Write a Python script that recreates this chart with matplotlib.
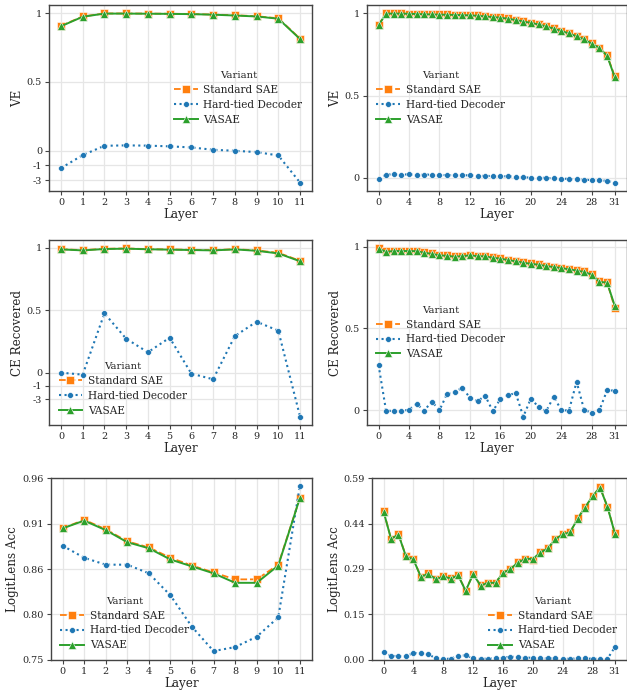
import matplotlib
matplotlib.use("Agg")
import matplotlib.pyplot as plt
import numpy as np

layers_small = list(range(12))
layers_large = list(range(32))

# VE
ve_small_sae = [0.908, 0.976, 0.998, 0.998, 0.997, 0.996, 0.994, 0.990, 0.985, 0.978, 0.963, 0.815]
ve_small_tied = [-1.27, -0.23, 0.036, 0.039, 0.037, 0.032, 0.024, 0.007, -0.002, -0.065, -0.25, -3.48]
ve_small_vasae = [0.905, 0.974, 0.997, 0.997, 0.996, 0.995, 0.993, 0.989, 0.983, 0.976, 0.960, 0.812]

ve_large_sae = [0.929, 0.998, 0.998, 0.998, 0.997, 0.996, 0.994, 0.993, 0.993, 0.992, 0.991, 0.990,
                0.988, 0.986, 0.982, 0.978, 0.974, 0.968, 0.960, 0.951, 0.943, 0.933, 0.921, 0.909,
                0.894, 0.880, 0.862, 0.843, 0.817, 0.790, 0.745, 0.618]
ve_large_tied = [-0.006, 0.020, 0.022, 0.020, 0.022, 0.018, 0.020, 0.020, 0.020, 0.016, 0.018, 0.016,
                 0.016, 0.014, 0.012, 0.012, 0.010, 0.010, 0.008, 0.004, 0.002, 0.002, 0.000, -0.002,
                 -0.004, -0.006, -0.008, -0.010, -0.014, -0.014, -0.018, -0.028]
ve_large_vasae = [0.927, 0.997, 0.997, 0.997, 0.996, 0.995, 0.993, 0.992, 0.991, 0.990, 0.989, 0.988,
                  0.986, 0.984, 0.980, 0.976, 0.972, 0.966, 0.958, 0.949, 0.941, 0.931, 0.919, 0.906,
                  0.891, 0.877, 0.859, 0.840, 0.814, 0.787, 0.742, 0.612]

# CE Recovered
ce_small_sae = [0.989, 0.981, 0.992, 0.995, 0.989, 0.987, 0.984, 0.981, 0.989, 0.979, 0.960, 0.896]
ce_small_tied = [0.0, -0.11, 0.475, 0.272, 0.163, 0.28, -0.053, -0.41, 0.293, 0.408, 0.336, -8.8]
ce_small_vasae = [0.987, 0.979, 0.990, 0.993, 0.988, 0.985, 0.982, 0.979, 0.987, 0.976, 0.955, 0.892]

ce_large_sae = [0.990, 0.972, 0.977, 0.977, 0.977, 0.976, 0.966, 0.960, 0.950, 0.948, 0.942, 0.946,
                0.950, 0.946, 0.944, 0.936, 0.930, 0.922, 0.914, 0.905, 0.899, 0.893, 0.885, 0.879,
                0.873, 0.865, 0.857, 0.849, 0.832, 0.788, 0.784, 0.628]
ce_large_tied = [0.278, -0.006, -0.002, -0.006, 0.004, 0.039, -0.002, 0.053, 0.0, 0.100, 0.114, 0.136,
                 0.077, 0.055, 0.089, -0.006, 0.069, 0.091, 0.106, -0.039, 0.071, 0.020, -0.006, 0.083,
                 0.0, -0.002, 0.175, 0.0, -0.014, 0.0, 0.122, 0.120]
ce_large_vasae = [0.988, 0.969, 0.974, 0.974, 0.974, 0.973, 0.963, 0.957, 0.947, 0.945, 0.939, 0.943,
                  0.947, 0.943, 0.941, 0.933, 0.927, 0.919, 0.911, 0.902, 0.896, 0.890, 0.882, 0.876,
                  0.870, 0.862, 0.854, 0.846, 0.829, 0.785, 0.781, 0.640]

# LogitLens Acc
ll_small_sae = [0.902, 0.912, 0.901, 0.887, 0.880, 0.868, 0.859, 0.851, 0.843, 0.843, 0.860, 0.937]
ll_small_tied = [0.882, 0.868, 0.860, 0.860, 0.850, 0.8245, 0.788, 0.760, 0.7646, 0.7766, 0.799, 0.951]
ll_small_vasae = [0.902, 0.911, 0.900, 0.886, 0.879, 0.866, 0.858, 0.850, 0.839, 0.839, 0.859, 0.937]

ll_large_sae = [0.483, 0.394, 0.408, 0.337, 0.327, 0.270, 0.281, 0.262, 0.272, 0.265, 0.275, 0.225,
                0.279, 0.242, 0.251, 0.251, 0.283, 0.296, 0.317, 0.329, 0.324, 0.349, 0.363, 0.392,
                0.409, 0.415, 0.460, 0.496, 0.533, 0.561, 0.498, 0.411]
ll_large_tied = [0.025, 0.012, 0.012, 0.011, 0.022, 0.021, 0.018, 0.004, 0.003, 0.003, 0.013, 0.014,
                 0.004, 0.003, 0.003, 0.005, 0.006, 0.010, 0.008, 0.006, 0.007, 0.005, 0.004, 0.004,
                 0.003, 0.003, 0.004, 0.004, 0.003, 0.003, 0.003, 0.041]
ll_large_vasae = [0.482, 0.393, 0.407, 0.336, 0.326, 0.269, 0.280, 0.261, 0.271, 0.264, 0.274, 0.224,
                  0.278, 0.241, 0.250, 0.250, 0.282, 0.295, 0.316, 0.328, 0.328, 0.348, 0.362, 0.391,
                  0.408, 0.414, 0.459, 0.495, 0.532, 0.560, 0.497, 0.410]

variants = ["Standard SAE", "Hard-tied Decoder", "VASAE"]

small_ticks = layers_small
large_ticks = [0, 4, 8, 12, 16, 20, 24, 28, 31]

signed_ticks = [-3, -1, 0, 0.5, 1]
signed_labels = ["-3", "-1", "0", "0.5", "1"]
unit_ticks = [0, 0.5, 1]
unit_labels = ["0", "0.5", "1"]
ll_small_ticks = [0.75, 0.8025, 0.855, 0.9075, 0.96]
ll_small_labels = ["0.75", "0.80", "0.86", "0.91", "0.96"]
ll_large_ticks = [0.0, 0.1475, 0.295, 0.4425, 0.59]
ll_large_labels = ["0.00", "0.15", "0.29", "0.44", "0.59"]

plt.rcParams["font.family"] = ["DejaVu Serif"]
plt.rcParams["axes.edgecolor"] = "#444444"
plt.rcParams["axes.linewidth"] = 1.0

K = 0.355


def fwd(y):
    y = np.asarray(y, dtype=float)
    return np.where(y >= 0, y, -K * np.log10(1 - np.minimum(y, 0)))


def inv(t):
    t = np.asarray(t, dtype=float)
    return np.where(t >= 0, t, 1 - 10 ** (-np.minimum(t, 0) / K))


styles = [
    dict(color="#ff7f0e", ls="--", marker="s", ms=5.5, lw=1.3),
    dict(color="#1f77b4", ls=":", marker="o", ms=4.2, lw=1.5),
    dict(color="#2ca02c", ls="-", marker="^", ms=6, lw=1.4),
]


def draw(ax, x, series, ylabel, xticks, yticks, ylabels, loc, scaled=False, ylim=None):
    if scaled:
        ax.set_yscale("function", functions=(fwd, inv))
    for name, vals, st in zip(variants, series, styles):
        ax.plot(x, vals, label=name, mec="white", mew=0.4, **st)
    ax.set_xticks(xticks)
    ax.set_yticks(yticks)
    ax.set_yticklabels(ylabels)
    if ylim is not None:
        ax.set_ylim(*ylim)
    ax.grid(True, color="#e6e6e6", lw=0.9)
    ax.set_axisbelow(True)
    ax.tick_params(labelsize=6.9, length=3, width=0.8, color="#444444", pad=2, labelcolor="#262626")
    ax.set_xlabel("Layer", fontsize=8.6, labelpad=1, color="#262626")
    ax.set_ylabel(ylabel, fontsize=8.6, labelpad=2, color="#262626")
    leg = ax.legend(title="Variant", loc=loc, frameon=False, fontsize=7.6,
                    title_fontsize=7.3, handlelength=2.25, borderaxespad=0.5,
                    labelspacing=0.45, handletextpad=0.55, borderpad=0.4)
    for t in leg.get_texts():
        t.set_color("#262626")
    leg.get_title().set_color("#262626")


fig = plt.figure(figsize=(6.27, 6.94), dpi=100)
H = 694.0
W = 627.0


def rect(x0, x1, y0, y1):
    return [x0 / W, (H - y1) / H, (x1 - x0) / W, (y1 - y0) / H]


ax1 = fig.add_axes(rect(49, 312, 5, 191))
ax2 = fig.add_axes(rect(366.7, 626.5, 5, 191))
ax3 = fig.add_axes(rect(49, 312, 240, 425))
ax4 = fig.add_axes(rect(366.7, 626.5, 240, 425))
ax5 = fig.add_axes(rect(50.7, 311.7, 478.3, 659.7))
ax6 = fig.add_axes(rect(372, 626.5, 478.3, 659.7))

draw(ax1, layers_small, [ve_small_sae, ve_small_tied, ve_small_vasae], "VE",
     small_ticks, signed_ticks, signed_labels, "center right", scaled=True)
draw(ax2, layers_large, [ve_large_sae, ve_large_tied, ve_large_vasae], "VE",
     large_ticks, unit_ticks, unit_labels, "center left")
draw(ax3, layers_small, [ce_small_sae, ce_small_tied, ce_small_vasae], "CE Recovered",
     small_ticks, signed_ticks, signed_labels, "lower left", scaled=True)
draw(ax4, layers_large, [ce_large_sae, ce_large_tied, ce_large_vasae], "CE Recovered",
     large_ticks, unit_ticks, unit_labels, "center left")
draw(ax5, layers_small, [ll_small_sae, ll_small_tied, ll_small_vasae], "LogitLens Acc",
     small_ticks, ll_small_ticks, ll_small_labels, "lower left", ylim=(0.75, 0.96))
draw(ax6, layers_large, [ll_large_sae, ll_large_tied, ll_large_vasae], "LogitLens Acc",
     large_ticks, ll_large_ticks, ll_large_labels, "lower right", ylim=(0.0, 0.59))

fig.savefig("out.png", dpi=100)
